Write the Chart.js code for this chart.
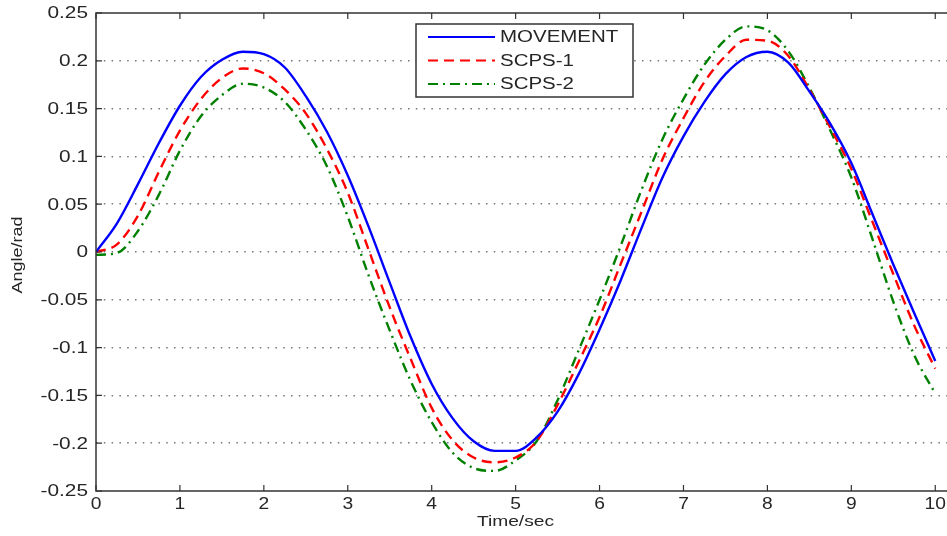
<!DOCTYPE html>
<html>
<head>
<meta charset="utf-8">
<script src="https://cdn.jsdelivr.net/npm/chart.js@4.4.1/dist/chart.umd.min.js"></script>
<style>
  html, body { margin: 0; padding: 0; background: #fff; overflow: hidden; }
  #wrap { width: 947px; height: 536px; }
</style>
</head>
<body>
<div id="wrap"><canvas id="angle-chart" width="947" height="536"></canvas></div>
<script>
// sample times (sec)
const times = [0, 0.25, 0.5, 0.75, 1, 1.25, 1.5, 1.75, 2, 2.25, 2.5, 2.75, 3, 3.25, 3.5, 3.75, 4, 4.25, 4.5, 4.75,
  5, 5.25, 5.5, 5.75, 6, 6.25, 6.5, 6.75, 7, 7.25, 7.5, 7.75, 8, 8.25, 8.5, 8.75, 9, 9.25, 9.5, 9.75, 10];

// angle values (rad)
const movement = [0, 0.030, 0.071, 0.114, 0.153, 0.183, 0.201, 0.2095, 0.207, 0.193, 0.163, 0.126, 0.080, 0.026, -0.032, -0.089, -0.138, -0.174, -0.198, -0.208,
  -0.208, -0.194, -0.167, -0.128, -0.081, -0.030, 0.025, 0.078, 0.121, 0.157, 0.186, 0.204, 0.2095, 0.198, 0.168, 0.134, 0.093, 0.040, -0.013, -0.064, -0.114];
const scps1 = [0, 0.008, 0.038, 0.084, 0.127, 0.160, 0.182, 0.192, 0.187, 0.170, 0.145, 0.108, 0.062, 0.002, -0.058, -0.112, -0.163, -0.197, -0.215, -0.220,
  -0.215, -0.198, -0.160, -0.115, -0.068, -0.013, 0.042, 0.097, 0.140, 0.178, 0.205, 0.222, 0.221, 0.205, 0.170, 0.130, 0.087, 0.032, -0.023, -0.077, -0.122];
const scps2 = [-0.003, -0.001, 0.022, 0.060, 0.106, 0.142, 0.164, 0.176, 0.172, 0.157, 0.128, 0.090, 0.037, -0.025, -0.082, -0.135, -0.178, -0.210, -0.226, -0.229,
  -0.218, -0.198, -0.155, -0.103, -0.050, 0.006, 0.065, 0.118, 0.160, 0.196, 0.222, 0.236, 0.232, 0.210, 0.172, 0.127, 0.078, 0.014, -0.052, -0.108, -0.148];

const seriesNames = ['MOVEMENT', 'SCPS-1', 'SCPS-2'];
const xTicks = [0, 1, 2, 3, 4, 5, 6, 7, 8, 9, 10];
const yTicks = [-0.25, -0.2, -0.15, -0.1, -0.05, 0, 0.05, 0.1, 0.15, 0.2, 0.25];
const xTitle = 'Time/sec';
const yTitle = 'Angle/rad';

function toPoints(values) {
  return times.map((t, i) => ({ x: t, y: values[i] }));
}

const frameColor = '#333333';
const textColor = '#262626';
const labelFont = '"Liberation Sans", Arial, sans-serif';

// the reference text is a little wider than plain Arial, so stretch it sideways
function wideText(ctx, text, x, y, align, sx, angle) {
  ctx.save();
  ctx.translate(x, y);
  if (angle) ctx.rotate(angle);
  ctx.scale(sx, 1);
  ctx.textAlign = align;
  ctx.fillText(text, 0, 0);
  ctx.restore();
}

// box, inward tick marks, labels and the boxed legend, MATLAB style
const matlabFrame = {
  id: 'matlabFrame',
  afterDraw: function (chart) {
    const ctx = chart.ctx;
    const area = chart.chartArea;
    const xs = chart.scales.x;
    const ys = chart.scales.y;
    ctx.save();
    ctx.strokeStyle = frameColor;
    ctx.lineWidth = 1.5;
    ctx.beginPath();
    ctx.moveTo(chart.width, area.top);
    ctx.lineTo(area.left, area.top);
    ctx.lineTo(area.left, area.bottom);
    ctx.lineTo(chart.width, area.bottom);
    ctx.stroke();

    ctx.lineWidth = 1.2;
    ctx.beginPath();
    xTicks.forEach(v => {
      const px = xs.getPixelForValue(v);
      ctx.moveTo(px, area.bottom);
      ctx.lineTo(px, area.bottom - 6);
      ctx.moveTo(px, area.top);
      ctx.lineTo(px, area.top + 6);
    });
    yTicks.forEach(v => {
      const py = ys.getPixelForValue(v);
      ctx.moveTo(area.left, py);
      ctx.lineTo(area.left + 6, py);
    });
    ctx.stroke();

    // tick labels and axis titles
    ctx.fillStyle = textColor;
    ctx.textBaseline = 'middle';
    ctx.font = '16px ' + labelFont;
    yTicks.forEach(v => {
      wideText(ctx, String(parseFloat(v.toFixed(2))), area.left - 8, ys.getPixelForValue(v) + 1, 'right', 1.3);
    });
    xTicks.forEach(v => {
      wideText(ctx, String(v), xs.getPixelForValue(v), area.bottom + 14, 'center', 1.2);
    });
    ctx.font = '15px ' + labelFont;
    wideText(ctx, xTitle, (area.left + 935) / 2, area.bottom + 31, 'center', 1.28);
    wideText(ctx, yTitle, 18, (area.top + area.bottom) / 2 + 3, 'center', 1.2, -Math.PI / 2);

    // legend
    const bx = 416, by = 24, bw = 217, bh = 73;
    ctx.fillStyle = '#fff';
    ctx.fillRect(bx, by, bw, bh);
    ctx.strokeStyle = frameColor;
    ctx.lineWidth = 1.5;
    ctx.strokeRect(bx, by, bw, bh);
    ctx.font = '16px ' + labelFont;
    chart.data.datasets.forEach((ds, i) => {
      const y = by + 13 + i * 23.5;
      ctx.strokeStyle = ds.borderColor;
      ctx.lineWidth = 2;
      ctx.setLineDash(ds.borderDash || []);
      ctx.beginPath();
      ctx.moveTo(428, y);
      ctx.lineTo(495, y);
      ctx.stroke();
      ctx.setLineDash([]);
      ctx.fillStyle = textColor;
      wideText(ctx, ds.label, 500, y + 1, 'left', 1.28);
    });
    ctx.restore();
  }
};

const ctx = document.getElementById('angle-chart').getContext('2d');

new Chart(ctx, {
  type: 'line',
  data: {
    datasets: [{
      label: seriesNames[0],
      data: toPoints(movement),
      borderColor: '#0000ff',
      borderWidth: 2.4,
      borderDash: [],
    }, {
      label: seriesNames[1],
      data: toPoints(scps1),
      borderColor: '#ff0000',
      borderWidth: 2.4,
      borderDash: [10, 6],
    }, {
      label: seriesNames[2],
      data: toPoints(scps2),
      borderColor: '#008000',
      borderWidth: 2.4,
      borderDash: [10, 5, 2, 5],
    }]
  },
  options: {
    responsive: false,
    animation: false,
    devicePixelRatio: 1,
    layout: { padding: { top: 13, right: 0, left: 0, bottom: 0 } },
    elements: {
      point: { radius: 0 },
      line: { cubicInterpolationMode: 'monotone', fill: false }
    },
    plugins: {
      legend: { display: false },
      tooltip: { enabled: false }
    },
    scales: {
      x: {
        type: 'linear',
        min: 0,
        max: 10.14,
        afterBuildTicks: function (scale) {
          scale.ticks = xTicks.map(v => ({ value: v }));
        },
        afterFit: function (scale) {
          scale.height = 45;
        },
        grid: { display: false, drawTicks: false },
        border: { display: false },
        ticks: { display: false },
        title: { display: false }
      },
      y: {
        type: 'linear',
        min: -0.25,
        max: 0.25,
        afterBuildTicks: function (scale) {
          scale.ticks = yTicks.map(v => ({ value: v }));
        },
        afterFit: function (scale) {
          scale.width = 96;
        },
        grid: {
          drawTicks: false,
          lineWidth: 1.5,
          color: c => (Math.abs(Math.abs(c.tick.value) - 0.25) < 1e-9 ? 'rgba(0,0,0,0)' : '#777')
        },
        border: { display: false, dash: [1.5, 6.3] },
        ticks: { display: false },
        title: { display: false }
      }
    }
  },
  plugins: [matlabFrame]
});
</script>
</body>
</html>
